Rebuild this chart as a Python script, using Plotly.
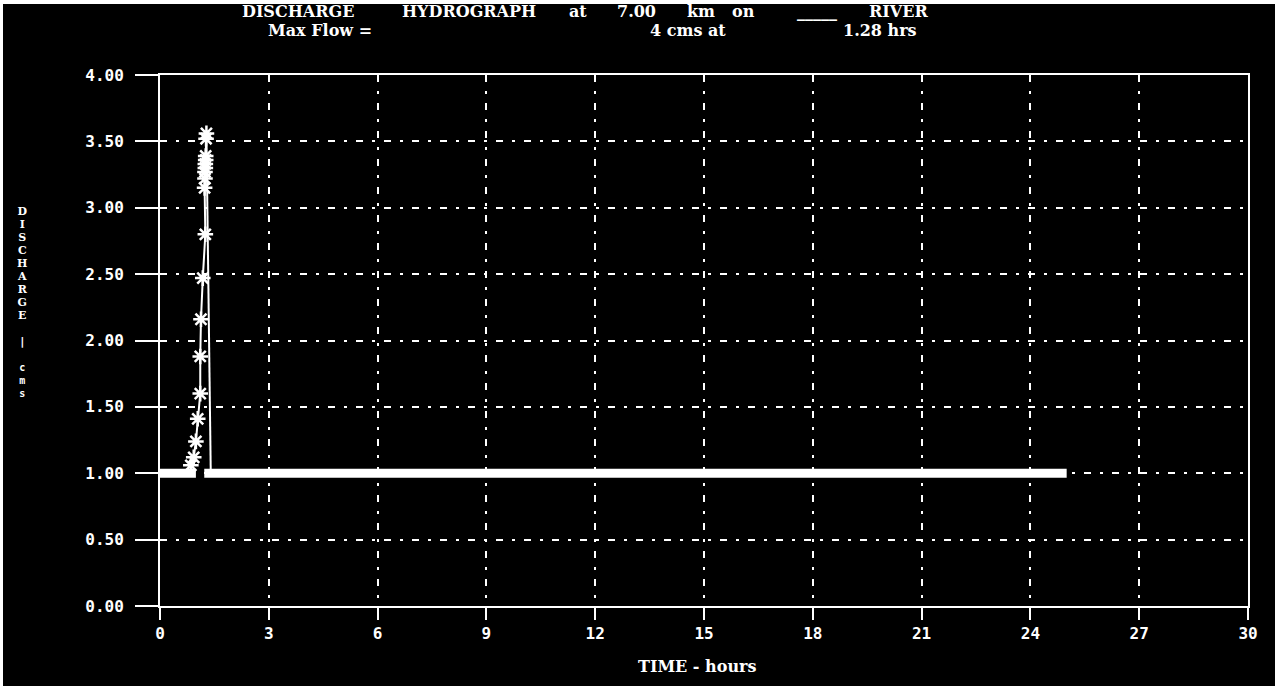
import plotly.graph_objects as go

# ---------------- data ----------------
base_left_t = [0.0, 0.99]
base_left_q = [1.00, 1.00]

rise_t = [0.85, 0.93, 0.99, 1.04, 1.11, 1.11, 1.13, 1.18, 1.25, 1.23, 1.24, 1.24,
          1.25, 1.25, 1.26, 1.26, 1.27, 1.28]
rise_q = [1.06, 1.12, 1.24, 1.41, 1.60, 1.88, 2.16, 2.47, 2.80, 3.15, 3.22, 3.27,
          3.30, 3.33, 3.36, 3.39, 3.52, 3.56]

fall_t = [1.28, 1.31, 1.40]
fall_q = [3.56, 3.00, 1.00]

base_right_t = [1.22, 25.0]
base_right_q = [1.00, 1.00]

x_ticks = [0, 3, 6, 9, 12, 15, 18, 21, 24, 27, 30]
x_tick_labels = [str(v) for v in x_ticks]
y_ticks = [0.0, 0.5, 1.0, 1.5, 2.0, 2.5, 3.0, 3.5, 4.0]
y_tick_labels = ["%.2f" % v for v in y_ticks]

# ---------------- layout geometry ----------------
W_PX, H_PX = 1278, 686
L, R, T, B = 160, 1248, 75, 606
PW, PH = R - L, B - T


def px(x):
    return (x - L) / PW


def py(y):
    return (B - y) / PH


MONO = "DejaVu Sans Mono, Liberation Mono, monospace"
SERIF = "DejaVu Serif, Liberation Serif, serif"
WHITE = "white"

fig = go.Figure()

fig.add_trace(go.Scatter(x=base_left_t, y=base_left_q, mode="lines",
                         line=dict(color=WHITE, width=9), hoverinfo="skip"))
fig.add_trace(go.Scatter(x=base_right_t, y=base_right_q, mode="lines",
                         line=dict(color=WHITE, width=9), hoverinfo="skip"))
fig.add_trace(go.Scatter(x=fall_t, y=fall_q, mode="lines",
                         line=dict(color=WHITE, width=2), hoverinfo="skip"))
fig.add_trace(go.Scatter(x=rise_t, y=rise_q, mode="lines+markers",
                         line=dict(color=WHITE, width=2),
                         marker=dict(symbol="asterisk-open", size=13, color=WHITE,
                                     line=dict(color=WHITE, width=2.5)),
                         hoverinfo="skip"))

grid = dict(showgrid=True, gridcolor=WHITE, gridwidth=1.5, griddash="7px,9px,3px,9px")

fig.update_xaxes(range=[0, 30], tickmode="array", tickvals=x_ticks, ticktext=x_tick_labels,
                 showline=True, linecolor=WHITE, linewidth=2, mirror=True,
                 ticks="outside", ticklen=12, tickwidth=2, tickcolor=WHITE,
                 tickfont=dict(family=MONO, size=16, color=WHITE, weight="bold"),
                 ticklabelstandoff=0,
                 zeroline=False, fixedrange=True, **grid)
fig.update_yaxes(range=[0, 4], tickmode="array", tickvals=y_ticks, ticktext=y_tick_labels,
                 showline=True, linecolor=WHITE, linewidth=2, mirror=True,
                 ticks="outside", ticklen=23, tickwidth=2, tickcolor=WHITE,
                 tickfont=dict(family=MONO, size=16, color=WHITE, weight="bold"),
                 ticklabelstandoff=8,
                 zeroline=False, fixedrange=True, **grid)

annotations = []


def add_text(text, x, y, size=17, family=SERIF, xanchor="center"):
    annotations.append(dict(text=text, x=px(x), y=py(y), xref="paper", yref="paper",
                            xanchor=xanchor, yanchor="middle", showarrow=False,
                            font=dict(family=family, size=size, color=WHITE, weight="bold")))


# title line 1
for word, cx in [("DISCHARGE", 298), ("HYDROGRAPH", 469), ("at", 578), ("7.00", 636),
                 ("km", 701), ("on", 743), ("_____", 817), ("RIVER", 898)]:
    add_text(word, cx, 11, size=16)
# title line 2
for word, cx in [("Max Flow =", 320), ("4 cms at", 688), ("1.28 hrs", 880)]:
    add_text(word, cx, 30, size=16)

# x axis title
add_text("TIME - hours", 697, 666, size=16)

# y axis title: one stacked text (line pitch 13 px from the base font size 10)
big = "<span style='font-size:11px;font-family:DejaVu Serif'>%s</span>"
bar = "<span style='font-size:11px;font-family:DejaVu Sans Mono'>%s</span>"
small = "<span style='font-size:10px;font-family:DejaVu Sans Mono'>%s</span>"
lines = [big % ch for ch in "DISCHARGE"] + ["", bar % "|", ""] + [small % ch for ch in "cms"]
add_text("<br>".join(lines), 22, 302, size=10)

fig.update_layout(
    width=W_PX, height=H_PX, autosize=False,
    margin=dict(l=L, r=W_PX - R, t=T, b=H_PX - B, pad=0),
    paper_bgcolor="white", plot_bgcolor="black",
    showlegend=False,
    annotations=annotations,
    shapes=[dict(type="rect", xref="paper", yref="paper", layer="below",
                 x0=px(3), x1=px(1275), y0=py(690), y1=py(4),
                 fillcolor="black", line=dict(width=0))],
)

fig.write_html("out.html", config={"displayModeBar": False},
               post_script="document.body.style.margin='0';")
